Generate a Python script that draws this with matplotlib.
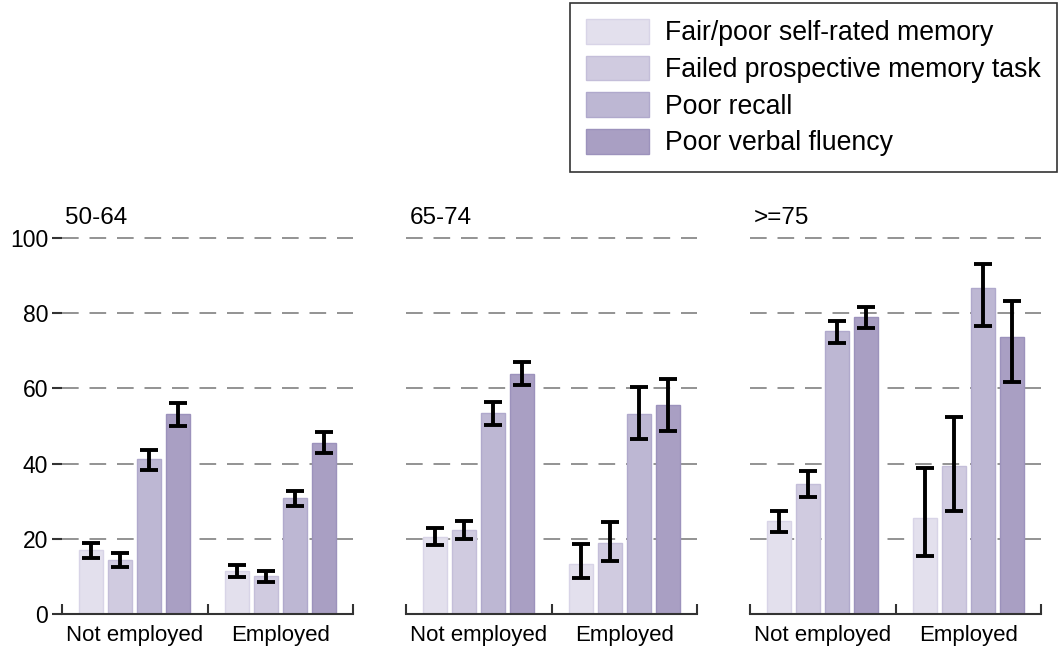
import matplotlib.pyplot as plt
import numpy as np

plt.rcParams['font.family'] = ['Liberation Sans', 'DejaVu Sans']

age_groups = ["50-64", "65-74", ">=75"]
employment = ["Not employed", "Employed"]
measures = [
    "Fair/poor self-rated memory",
    "Failed prospective memory task",
    "Poor recall",
    "Poor verbal fluency",
]

# percentages per age group: rows = employment status, cols = measure
pct = {
    "50-64": [[17.0, 14.4, 41.2, 53.2], [11.4, 10.1, 30.8, 45.4]],
    "65-74": [[20.4, 22.4, 53.4, 63.9], [13.2, 18.8, 53.2, 55.6]],
    ">=75": [[24.8, 34.5, 75.2, 79.1], [25.5, 39.4, 86.7, 73.8]],
}
ci_low = {
    "50-64": [[15.0, 12.4, 38.3, 50.0], [9.9, 8.4, 28.7, 42.8]],
    "65-74": [[18.4, 20.0, 50.3, 60.8], [9.5, 14.1, 46.6, 48.7]],
    ">=75": [[21.7, 31.2, 72.2, 76.0], [15.5, 27.4, 76.5, 61.8]],
}
ci_high = {
    "50-64": [[18.8, 16.1, 43.7, 56.1], [12.9, 11.5, 32.8, 48.4]],
    "65-74": [[22.8, 24.8, 56.5, 66.9], [18.5, 24.5, 60.3, 62.5]],
    ">=75": [[27.5, 37.9, 78.0, 81.6], [38.8, 52.4, 93.1, 83.3]],
}

fills = ["#e3e0ed", "#d0cbe0", "#bdb7d3", "#a99fc3"]
edges = ["#d8d4e7", "#c4bed9", "#b0a9cc", "#9c92bc"]

fig = plt.figure(figsize=(10.6, 6.48), dpi=100)
lefts = [62 / 1060, 406 / 1060, 750 / 1060]
offsets = [-0.3, -0.1, 0.1, 0.3]
centers = np.array([0.5, 1.5])

handles = []
for i, grp in enumerate(age_groups):
    ax = fig.add_axes([lefts[i], 34 / 648, 291 / 1060, 376 / 648])
    vals = np.array(pct[grp])
    lo = np.array(ci_low[grp])
    hi = np.array(ci_high[grp])
    for k in range(4):
        x = centers + offsets[k]
        b = ax.bar(x, vals[:, k], width=0.165, color=fills[k],
                   edgecolor=edges[k], linewidth=1, zorder=2,
                   label=measures[k])
        ax.errorbar(x, vals[:, k], yerr=[vals[:, k] - lo[:, k], hi[:, k] - vals[:, k]],
                    fmt="none", ecolor="black", elinewidth=2.8, capsize=6.5,
                    capthick=2.8, zorder=3)
        if i == 0:
            handles.append(b)

    ax.set_xlim(0, 2)
    ax.set_ylim(0, 100)
    for y in [20, 40, 60, 80, 100]:
        ax.axhline(y, color="#808080", linewidth=1.2, dashes=(10, 6.5),
                   zorder=1, clip_on=False)

    ax.spines[["top", "right", "left"]].set_visible(False)
    ax.spines["bottom"].set_color("#333333")
    ax.spines["bottom"].set_linewidth(1.5)

    ax.set_xticks([0, 1, 2])
    ax.set_xticklabels([])
    ax.set_xticks(centers, minor=True)
    ax.set_xticklabels(employment, minor=True, fontsize=16)
    ax.tick_params(axis="x", which="major", direction="in", length=7,
                   width=1.5, color="#333333")
    ax.tick_params(axis="x", which="minor", length=0, pad=8)

    if i == 0:
        ax.set_yticks([0, 20, 40, 60, 80, 100])
        ax.tick_params(axis="y", direction="out", length=7, width=1.5,
                       color="#333333", labelsize=16.5, pad=3)
    else:
        ax.set_yticks([])

    ax.text(0.012, 1.025, grp, transform=ax.transAxes, fontsize=17.5,
            ha="left", va="bottom")

fig.legend(handles=handles, labels=measures, loc="upper right",
           bbox_to_anchor=(1057 / 1060, 1 - 3 / 648), fontsize=19.2,
           frameon=True, fancybox=False, edgecolor="#333333",
           framealpha=1, handlelength=2.35, handleheight=1.05,
           labelspacing=0.345, borderpad=0.6, handletextpad=0.62,
           borderaxespad=0)
fig.legends[0].get_frame().set_linewidth(1.2)

fig.savefig("out.png", dpi=100)
